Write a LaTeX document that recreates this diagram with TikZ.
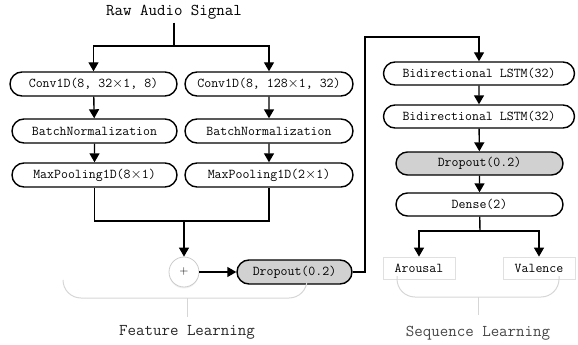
\documentclass[tikz,border=0pt]{standalone}
\usetikzlibrary{shapes.misc,arrows.meta,shadows}
\begin{document}
\begin{tikzpicture}[x=1pt,y=-1pt,
	layer/.style={rounded rectangle, draw, line width=1.4pt, inner sep=0pt, minimum height=24pt, font=\ttfamily\fontsize{13.5}{14}\selectfont},
	droplayer/.style={layer, fill=black!18},
	outbox/.style={rectangle, draw=black!12, line width=0.8pt, inner sep=0pt, minimum width=72pt, minimum height=22pt, font=\ttfamily\fontsize{13.5}{14}\selectfont},
	link/.style={line width=1.4pt},
	arr/.style={link, -{Triangle[length=9pt,width=10pt]}},
	bracket/.style={draw=black!16, line width=1pt, rounded corners=18pt},
	caption/.style={font=\ttfamily\fontsize{16.5}{17}\selectfont}
	]
	\useasboundingbox (0,0) rectangle (578,345);
	% feature learning
	\node[caption] (raw) at (174,12) {Raw Audio Signal};
	\node[layer, minimum width=167pt] (convA) at (93.5,84) {Conv1D(8, 32$\times$1, 8)};
	\node[layer, minimum width=168pt] (convB) at (269,84) {Conv1D(8, 128$\times$1, 32)};
	\node[layer, minimum width=165pt] (bnA) at (94.5,131) {BatchNormalization};
	\node[layer, minimum width=168pt] (bnB) at (269,131) {BatchNormalization};
	\node[layer, minimum width=165pt] (mpA) at (94.5,175) {MaxPooling1D(8$\times$1)};
	\node[layer, minimum width=168pt] (mpB) at (269,175) {MaxPooling1D(2$\times$1)};
	\node[circle, draw=black!20, fill=white, line width=0.8pt, minimum size=30pt, inner sep=0pt, drop shadow={opacity=0.12, shadow xshift=0pt, shadow yshift=-1.5pt}, font=\fontsize{12}{12}\selectfont] (add) at (184,272) {+};
	\node[droplayer, minimum width=115pt] (dropA) at (294.5,272) {Dropout(0.2)};
	% sequence learning
	\node[layer, minimum width=191pt, minimum height=23pt] (lstmA) at (479,73.5) {Bidirectional LSTM(32)};
	\node[layer, minimum width=191pt, minimum height=23pt] (lstmB) at (479,116.5) {Bidirectional LSTM(32)};
	\node[droplayer, minimum width=167pt, minimum height=23pt] (dropB) at (479.5,163.5) {Dropout(0.2)};
	\node[layer, minimum width=167pt, minimum height=23pt] (dense) at (479.5,204.5) {Dense(2)};
	\node[outbox] (arousal) at (419,268) {Arousal};
	\node[outbox] (valence) at (539,268) {Valence};
	
	\coordinate (split) at (174,46);
	\coordinate (merge) at (184,221);
	\coordinate (turn) at (365,37);
	\coordinate (fork) at (480,231);
	
	\draw[link] (raw) -- (split);
	\draw[arr] (split) -| (convA);
	\draw[arr] (split) -| (convB);
	\draw[arr] (convA) -- (bnA);
	\draw[arr] (bnA) -- (mpA);
	\draw[arr] (convB) -- (bnB);
	\draw[arr] (bnB) -- (mpB);
	\draw[link] (mpA) |- (merge) -| (mpB);
	\draw[arr] (merge) -- (add);
	\draw[arr] (add) -- (dropA);
	\draw[arr] (dropA) -| (turn) -| (lstmA);
	\draw[arr] (lstmA) -- (lstmB);
	\draw[arr] (lstmB) -- (dropB);
	\draw[arr] (dropB) -- (dense);
	\draw[link] (dense) -- (fork);
	\draw[arr] (fork) -| (arousal);
	\draw[arr] (fork) -| (valence);
	
	% brackets
	\draw[bracket] (63,280) -- (63,298) -- (307,298) -- (307,280);
	\draw[draw=black!16, line width=1pt] (187,298) -- (187,317);
	\node[caption, text=black!85] (featlbl) at (187,332) {Feature Learning};
	\draw[bracket] (397,276) -- (397,297) -- (559,297) -- (559,276);
	\draw[draw=black!16, line width=1pt] (478,297) -- (478,315);
	\node[caption, text=black!72] (seqlbl) at (478,333) {Sequence Learning};
\end{tikzpicture}
\end{document}
